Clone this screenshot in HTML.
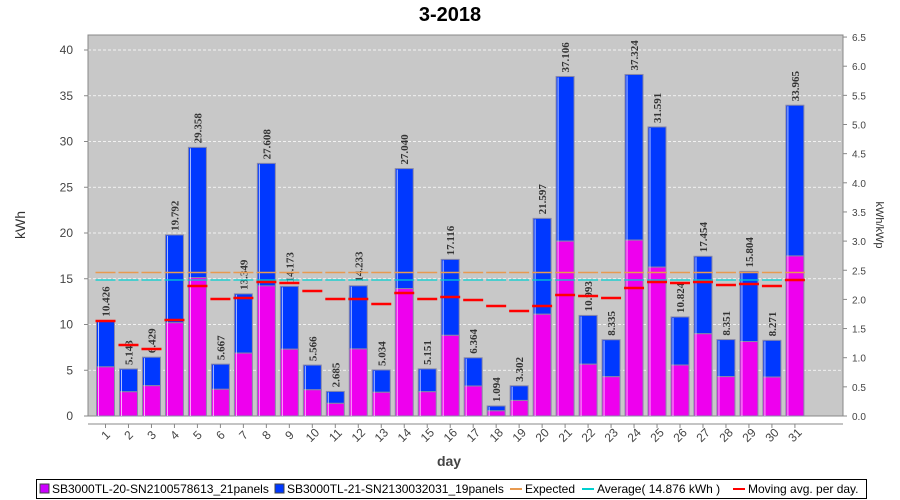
<!DOCTYPE html>
<html><head><meta charset="utf-8"><style>
body{margin:0;background:#fff;width:900px;height:500px;overflow:hidden}
svg{display:block;font-family:"Liberation Sans",sans-serif}
</style></head><body>
<svg id="s" width="900" height="500" xmlns="http://www.w3.org/2000/svg"></svg>
<script>
const v=[10.426,5.143,6.429,19.792,29.358,5.667,13.349,27.608,14.173,5.566,2.685,14.233,5.034,27.040,5.151,17.116,6.364,1.094,3.302,21.597,37.106,10.993,8.335,37.324,31.591,10.824,17.454,8.351,15.804,8.271,33.965];
const ma=[321,345,349,320,286,299,298,282,283,291,299,299,304,293,299,297,300,306,311,306,295,296,298,288,282,283,282,285,284,286,280];
const L=88,R=843,T=35,B=416,k=9.15;
const Y=x=>B-x*k;
let h='';
h+=`<text x="450" y="21" text-anchor="middle" font-size="20" font-weight="bold">3-2018</text>`;
h+=`<rect x="${L}" y="${T}" width="${R-L}" height="${B-T}" fill="#c8c8c8" stroke="#888"/>`;
for(let i=1;i<=8;i++){const y=Y(i*5);h+=`<line x1="${L}" x2="${R}" y1="${y}" y2="${y}" stroke="#fff" stroke-dasharray="3,2" stroke-width="0.8"/>`}
for(let i=0;i<=8;i++){const y=Y(i*5);h+=`<text x="73" y="${y+4}" text-anchor="end" font-size="12" fill="#444">${i*5}</text><line x1="${L-4}" x2="${L}" y1="${y}" y2="${y}" stroke="#888"/>`}
for(let i=0;i<=13;i++){const y=B-i*29.15;h+=`<text x="852" y="${y+4}" font-size="10" fill="#444">${(i/2).toFixed(1)}</text><line x1="${R}" x2="${R+4}" y1="${y}" y2="${y}" stroke="#888"/>`}
h+=`<line x1="${L}" x2="${R}" y1="${B+8}" y2="${B+8}" stroke="#888"/>`;
h+=`<line x1="${L}" x2="${L}" y1="${T}" y2="${B}" stroke="#888"/><line x1="${R}" x2="${R}" y1="${T}" y2="${B}" stroke="#888"/>`;
h+=`<text transform="translate(25,225) rotate(-90)" text-anchor="middle" font-size="14" fill="#333">kWh</text>`;
h+=`<text transform="translate(876,225) rotate(90)" text-anchor="middle" font-size="11" fill="#333">kWh/kWp</text>`;
h+=`<text x="449" y="466" text-anchor="middle" font-size="14" font-weight="bold" fill="#444">day</text>`;
for(let i=0;i<31;i++){
 const c=105.5+i*22.98,x=c-9,top=Y(v[i]),mid=Y(v[i]*0.515);
 h+=`<rect x="${x}" y="${top}" width="18" height="${mid-top}" fill="#0038ff" stroke="#8888a8"/>`;
 h+=`<rect x="${x}" y="${mid}" width="18" height="${B-mid}" fill="#ee00ee" stroke="#8888a8"/>`;
 h+=`<line x1="${x+2}" x2="${x+2}" y1="${top+1}" y2="${B}" stroke="#fff" stroke-opacity="0.7"/>`;
 h+=`<text transform="translate(${c+4},${top-4}) rotate(-90)" font-family="Liberation Serif,serif" font-size="11" font-weight="bold" fill="#333">${v[i].toFixed(3)}</text>`;
 h+=`<line x1="${c}" x2="${c}" y1="${B+8}" y2="${B+12}" stroke="#888"/>`;
 h+=`<text transform="translate(${c+3},${B+22}) rotate(-45)" text-anchor="middle" font-size="12" fill="#444">${i+1}</text>`;
}
for(let i=0;i<31;i++){const c=105.5+i*22.98;
 h+=`<line x1="${c-10}" x2="${c+10}" y1="272.5" y2="272.5" stroke="#e89a50" stroke-width="1.5"/>`;
 h+=`<line x1="${c-10}" x2="${c+10}" y1="280" y2="280" stroke="#00d0d0" stroke-width="1.2"/>`;
}
for(let i=0;i<31;i++){const c=105.5+i*22.98;h+=`<line x1="${c-10}" x2="${c+10}" y1="${ma[i]}" y2="${ma[i]}" stroke="#ff0000" stroke-width="2.5"/>`}
h+=`<rect x="36.5" y="479.5" width="830" height="19" fill="#fff" stroke="#000"/>`;
h+=`<rect x="40" y="484" width="9" height="9" fill="#cc00ff" stroke="#444"/><text x="52" y="493" font-size="12">SB3000TL-20-SN2100578613_21panels</text>`;
h+=`<rect x="275" y="484" width="9" height="9" fill="#0038ff" stroke="#444"/><text x="287" y="493" font-size="12">SB3000TL-21-SN2130032031_19panels</text>`;
h+=`<line x1="510" x2="522" y1="489" y2="489" stroke="#e89a50" stroke-width="2"/><text x="525" y="493" font-size="12">Expected</text>`;
h+=`<line x1="582" x2="594" y1="489" y2="489" stroke="#00d0d0" stroke-width="2"/><text x="597" y="493" font-size="12">Average( 14.876 kWh )</text>`;
h+=`<line x1="733" x2="745" y1="489" y2="489" stroke="#ff0000" stroke-width="2"/><text x="748" y="493" font-size="12">Moving avg. per day.</text>`;
document.getElementById('s').innerHTML=h;
</script>
</body></html>
